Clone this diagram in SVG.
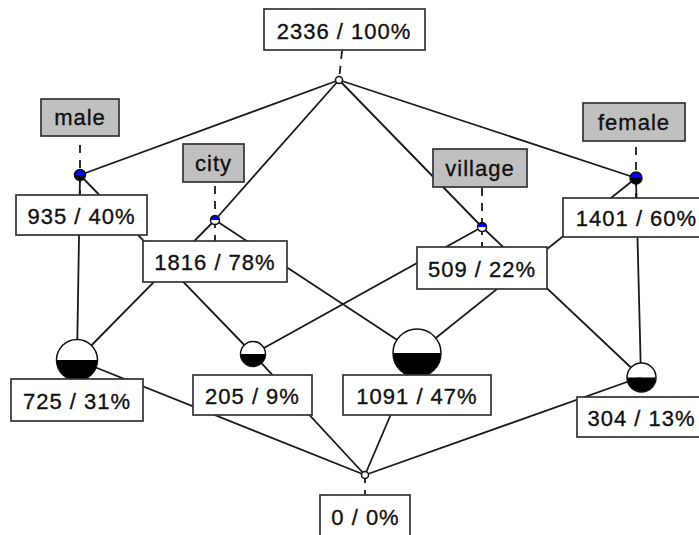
<svg xmlns="http://www.w3.org/2000/svg" width="699" height="535" viewBox="0 0 699 535">
<style>
.e{stroke:#1a1a1a;stroke-width:1.8;fill:none}
.d{stroke:#1a1a1a;stroke-width:1.8;fill:none;stroke-dasharray:8 7}
.n{stroke:#111;stroke-width:1.5}
.b{fill:#fff;stroke:#333;stroke-width:1.7}
.a{fill:#c0c0c0;stroke:#333;stroke-width:1.7}
text{font-family:"Liberation Sans",Arial,sans-serif;font-size:22px;letter-spacing:1px;fill:#111;stroke:#111;stroke-width:0.35;text-anchor:middle}
</style>
<rect width="699" height="535" fill="#fff"/>
<g id="connectors">
<line class="e" x1="339" y1="80" x2="80" y2="175"/>
<line class="e" x1="339" y1="80" x2="215" y2="220"/>
<line class="e" x1="339" y1="80" x2="482" y2="227"/>
<line class="e" x1="339" y1="80" x2="636" y2="178"/>
<line class="e" x1="80" y1="175" x2="77" y2="360"/>
<line class="e" x1="80" y1="175" x2="253" y2="354"/>
<line class="e" x1="215" y1="220" x2="77" y2="360"/>
<line class="e" x1="215" y1="220" x2="417" y2="353"/>
<line class="e" x1="482" y1="227" x2="253" y2="354"/>
<line class="e" x1="482" y1="227" x2="641" y2="377"/>
<line class="e" x1="636" y1="178" x2="417" y2="353"/>
<line class="e" x1="636" y1="178" x2="641" y2="377"/>
<line class="e" x1="77" y1="360" x2="365" y2="475"/>
<line class="e" x1="253" y1="354" x2="365" y2="475"/>
<line class="e" x1="417" y1="353" x2="365" y2="475"/>
<line class="e" x1="641" y1="377" x2="365" y2="475"/>
<line class="d" x1="342" y1="51" x2="339" y2="80"/>
<line class="d" x1="80" y1="138" x2="80" y2="175" stroke-dashoffset="-7"/>
<line class="d" x1="80" y1="175" x2="80" y2="195"/>
<line class="d" x1="215" y1="183" x2="215" y2="220" stroke-dashoffset="-3"/>
<line class="d" x1="215" y1="220" x2="215" y2="241"/>
<line class="d" x1="482" y1="188" x2="482" y2="227"/>
<line class="d" x1="482" y1="227" x2="482" y2="247"/>
<line class="d" x1="636" y1="142" x2="636" y2="178" stroke-dashoffset="-5"/>
<line class="d" x1="636" y1="178" x2="636" y2="198"/>
<line class="d" x1="365" y1="475" x2="365" y2="495"/>
</g>
<g id="n-top">
<circle class="n" cx="339" cy="80" r="3.5" fill="#fff"/>
<rect class="b" x="264" y="9" width="161" height="41"/>
<text x="344" y="38.5">2336 / 100%</text>
</g>
<g id="n-male">
<path d="M74.5 175a5.5 5.5 0 0 1 11 0z" fill="#0000ff"/>
<path d="M74.5 175a5.5 5.5 0 0 0 11 0z" fill="#000"/>
<circle class="n" cx="80" cy="175" r="5.5" fill="none"/>
<rect class="a" x="41" y="99" width="78" height="37"/>
<text x="80" y="125">male</text>
<rect class="b" x="16" y="195" width="131" height="40"/>
<text x="81.5" y="223.5">935 / 40%</text>
</g>
<g id="n-city">
<path d="M210.5 220a4.5 4.5 0 0 1 9 0z" fill="#0000ff"/>
<path d="M210.5 220a4.5 4.5 0 0 0 9 0z" fill="#fff"/>
<circle class="n" cx="215" cy="220" r="4.5" fill="none"/>
<rect class="a" x="183" y="144" width="61" height="38"/>
<text x="213.5" y="171">city</text>
<rect class="b" x="143" y="241" width="144" height="41"/>
<text x="215" y="270">1816 / 78%</text>
</g>
<g id="n-village">
<path d="M477.5 227a4.5 4.5 0 0 1 9 0z" fill="#0000ff"/>
<path d="M477.5 227a4.5 4.5 0 0 0 9 0z" fill="#fff"/>
<circle class="n" cx="482" cy="227" r="4.5" fill="none"/>
<rect class="a" x="433" y="149" width="94" height="38"/>
<text x="480" y="176">village</text>
<rect class="b" x="417" y="247" width="130" height="42"/>
<text x="482" y="277">509 / 22%</text>
</g>
<g id="n-female">
<path d="M630 178a6 6 0 0 1 12 0z" fill="#0000ff"/>
<path d="M630 178a6 6 0 0 0 12 0z" fill="#000"/>
<circle class="n" cx="636" cy="178" r="6" fill="none"/>
<rect class="a" x="583" y="103" width="102" height="38"/>
<text x="634" y="130">female</text>
<rect class="b" x="563" y="198" width="146" height="39"/>
<text x="636.5" y="226">1401 / 60%</text>
</g>
<g id="n-725">
<path d="M56.5 360a20.5 20.5 0 0 1 41 0z" fill="#fff"/>
<path d="M56.5 360a20.5 20.5 0 0 0 41 0z" fill="#000"/>
<circle class="n" cx="77" cy="360" r="20.5" fill="none"/>
<rect class="b" x="11" y="379" width="132" height="42"/>
<text x="77" y="409">725 / 31%</text>
</g>
<g id="n-205">
<path d="M240.5 354a12.5 12.5 0 0 1 25 0z" fill="#fff"/>
<path d="M240.5 354a12.5 12.5 0 0 0 25 0z" fill="#000"/>
<circle class="n" cx="253" cy="354" r="12.5" fill="none"/>
<rect class="b" x="193" y="375" width="119" height="40"/>
<text x="252.5" y="403.5">205 / 9%</text>
</g>
<g id="n-1091">
<path d="M393 353a24 24 0 0 1 48 0z" fill="#fff"/>
<path d="M393 353a24 24 0 0 0 48 0z" fill="#000"/>
<circle class="n" cx="417" cy="353" r="24" fill="none"/>
<rect class="b" x="343" y="375" width="148" height="40"/>
<text x="417" y="403.5">1091 / 47%</text>
</g>
<g id="n-304">
<path d="M627 377.5a14.5 14.5 0 0 1 29 0z" fill="#fff"/>
<path d="M627 377.5a14.5 14.5 0 0 0 29 0z" fill="#000"/>
<circle class="n" cx="641.5" cy="377.5" r="14.5" fill="none"/>
<rect class="b" x="577" y="397" width="128" height="40"/>
<text x="641.5" y="425.5">304 / 13%</text>
</g>
<g id="n-bottom">
<circle class="n" cx="365" cy="475" r="3.5" fill="#fff"/>
<rect class="b" x="320" y="495" width="90" height="45"/>
<text x="365.5" y="524.5">0 / 0%</text>
</g>
</svg>
